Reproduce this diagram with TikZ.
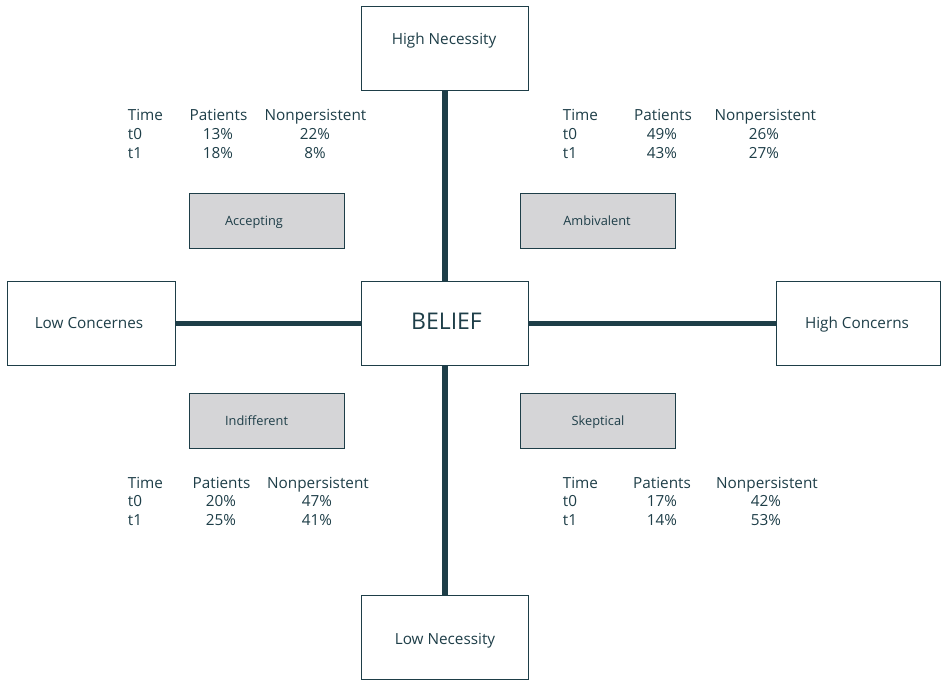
\documentclass[tikz,border=0pt]{standalone}
\usepackage{fontspec}
\setmainfont{Open Sans}
\definecolor{ink}{HTML}{1E3E48}
\definecolor{boxgray}{HTML}{D5D5D7}
\begin{document}
\begin{tikzpicture}[x=1pt,y=-1pt,
  frame/.style={draw=ink, line width=0.9pt, fill=white, inner sep=0pt, minimum width=167pt, minimum height=84pt},
  cat/.style={draw=ink, line width=0.9pt, fill=boxgray, inner sep=0pt, minimum width=155pt, minimum height=55pt},
  conn/.style={draw=ink, line width=5.3pt},
  lbl/.style={text=ink, font=\fontsize{15.3}{18}\selectfont, inner sep=0pt, anchor=base},
  big/.style={text=ink, font=\fontsize{23}{26}\selectfont, inner sep=0pt, anchor=base},
  small/.style={text=ink, font=\fontsize{12.8}{15}\selectfont, inner sep=0pt, anchor=base},
  tw/.style={lbl, anchor=base west}]
\useasboundingbox (0,0) rectangle (941,680);

% axis boxes
\node[frame] (hn) at (445,48) {};
\node[frame] (bel) at (445,323.3) {};
\node[frame, minimum height=84.5pt] (ln) at (445,637.3) {};
\node[frame, minimum width=168pt] (lc) at (91,323.3) {};
\node[frame, minimum width=164.3pt] (hc) at (858.2,323.3) {};

% connectors
\draw[conn] (hn.south) -- (bel.north);
\draw[conn] (bel.south) -- (ln.north);
\draw[conn] (lc.east) -- (bel.west);
\draw[conn] (bel.east) -- (hc.west);

% axis labels
\node[lbl] (hnt) at (444,44.3) {High Necessity};
\node[big] (belt) at (446.5,329) {BELIEF};
\node[lbl] (lnt) at (445,644.3) {Low Necessity};
\node[lbl] (lct) at (89,328) {Low Concernes};
\node[lbl] (hct) at (857,328) {High Concerns};

% category boxes
\node[cat] (acc) at (266.7,220.5) {};
\node[cat] (amb) at (598.3,220.5) {};
\node[cat] (ind) at (266.7,420.5) {};
\node[cat] (ske) at (598.3,420.5) {};
\node[small] (acct) at (254,225.5) {Accepting};
\node[small] (ambt) at (597,225.5) {Ambivalent};
\node[small] (indt) at (256.6,425.5) {Indifferent};
\node[small] (sket) at (598,425.5) {Skeptical};

% table top-left
\node[tw] (tlh1) at (127.7,120.7) {Time};
\node[lbl] (tlh2) at (218.5,120.7) {Patients};
\node[lbl] (tlh3) at (315.5,120.7) {Nonpersistent};
\node[tw] (tla1) at (127.7,139.3) {t0};
\node[lbl] (tla2) at (218,139.3) {13\%};
\node[lbl] (tla3) at (315,139.3) {22\%};
\node[tw] (tlb1) at (127.7,158.3) {t1};
\node[lbl] (tlb2) at (218,158.3) {18\%};
\node[lbl] (tlb3) at (315,158.3) {8\%};

% table top-right
\node[tw] (trh1) at (562.7,120.7) {Time};
\node[lbl] (trh2) at (663,120.7) {Patients};
\node[lbl] (trh3) at (765.3,120.7) {Nonpersistent};
\node[tw] (tra1) at (562.7,139.3) {t0};
\node[lbl] (tra2) at (662,139.3) {49\%};
\node[lbl] (tra3) at (764,139.3) {26\%};
\node[tw] (trb1) at (562.7,158.3) {t1};
\node[lbl] (trb2) at (662,158.3) {43\%};
\node[lbl] (trb3) at (764,158.3) {27\%};

% table bottom-left
\node[tw] (blh1) at (127.7,488.3) {Time};
\node[lbl] (blh2) at (221.5,488.3) {Patients};
\node[lbl] (blh3) at (318,488.3) {Nonpersistent};
\node[tw] (bla1) at (127.7,506.7) {t0};
\node[lbl] (bla2) at (221,506.7) {20\%};
\node[lbl] (bla3) at (317,506.7) {47\%};
\node[tw] (blb1) at (127.7,525.7) {t1};
\node[lbl] (blb2) at (221,525.7) {25\%};
\node[lbl] (blb3) at (317,525.7) {41\%};

% table bottom-right
\node[tw] (brh1) at (562.7,488.3) {Time};
\node[lbl] (brh2) at (662,488.3) {Patients};
\node[lbl] (brh3) at (767,488.3) {Nonpersistent};
\node[tw] (bra1) at (562.7,506.7) {t0};
\node[lbl] (bra2) at (662,506.7) {17\%};
\node[lbl] (bra3) at (766,506.7) {42\%};
\node[tw] (brb1) at (562.7,525.7) {t1};
\node[lbl] (brb2) at (662,525.7) {14\%};
\node[lbl] (brb3) at (766,525.7) {53\%};
\end{tikzpicture}
\end{document}
